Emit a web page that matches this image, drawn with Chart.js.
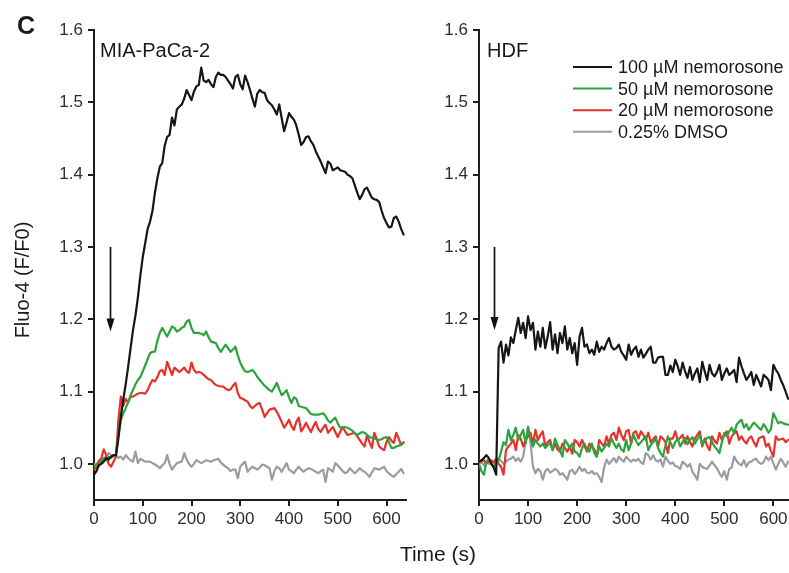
<!DOCTYPE html>
<html><head><meta charset="utf-8">
<script src="https://cdn.jsdelivr.net/npm/chart.js@4.4.1/dist/chart.umd.min.js"></script>
<style>
html,body{margin:0;padding:0;width:789px;height:573px;overflow:hidden;background:#fff;font-family:Arial,"Liberation Sans",sans-serif;}
.box{position:absolute;top:0;height:573px;}
#wa{left:0;width:420px;}
#wb{left:410px;width:400px;}
.t{position:absolute;line-height:1;white-space:nowrap;color:#1a1a1a;}
</style></head><body>
<div class="box" id="wa"><canvas id="ca" width="420" height="573"></canvas></div>
<div class="box" id="wb"><canvas id="cb" width="400" height="573"></canvas></div>
<div class="t" style="left:17px;top:13px;font-size:25px;font-weight:bold;">C</div>
<div class="t" style="left:100px;top:40px;font-size:20px;">MIA-PaCa-2</div>
<div class="t" style="left:487px;top:40px;font-size:20px;">HDF</div>
<div class="t" style="left:22px;top:280px;font-size:20px;transform:translate(-50%,-50%) rotate(-90deg);">Fluo-4 (F/F0)</div>
<div class="t" style="left:438px;top:553px;font-size:21px;transform:translate(-50%,-50%);">Time (s)</div>
<script>
// ---------- data ----------
const seriesLabels = ['100 \u00b5M nemorosone', '50 \u00b5M nemorosone', '20 \u00b5M nemorosone', '0.25% DMSO'];
const xTicks = [0, 100, 200, 300, 400, 500, 600];
const yTicks = [1.0, 1.1, 1.2, 1.3, 1.4, 1.5, 1.6];
// sampling times (s), one reading every 5 s
const timeA = Array.from({length: 128}, (_, i) => i * 5);   // MIA-PaCa-2: 0..635
const timeB = Array.from({length: 127}, (_, i) => i * 5);   // HDF: 0..630

// MIA-PaCa-2
const miaBlack = [
 0.985,0.99,0.998,1.0,1.003,1.008,1.006,1.01,1.012,1.012,
 1.035,1.065,1.089,1.11,1.134,1.16,1.185,1.205,1.23,1.26,
 1.286,1.305,1.325,1.335,1.35,1.375,1.395,1.411,1.416,1.44,
 1.452,1.455,1.479,1.468,1.49,1.494,1.497,1.505,1.517,1.51,
 1.503,1.515,1.522,1.524,1.548,1.53,1.528,1.531,1.525,1.521,
 1.535,1.541,1.538,1.538,1.535,1.53,1.525,1.519,1.535,1.538,
 1.525,1.518,1.537,1.528,1.517,1.505,1.494,1.512,1.517,1.514,
 1.513,1.503,1.499,1.496,1.49,1.483,1.497,1.478,1.46,1.472,
 1.485,1.48,1.476,1.468,1.455,1.441,1.445,1.452,1.453,1.446,
 1.441,1.432,1.425,1.418,1.41,1.402,1.418,1.415,1.406,1.408,
 1.41,1.406,1.405,1.404,1.4,1.398,1.395,1.385,1.375,1.366,
 1.372,1.38,1.382,1.375,1.368,1.366,1.365,1.362,1.35,1.34,
 1.333,1.327,1.328,1.34,1.342,1.335,1.325,1.317];
const miaGreen = [
 0.995,1.0,0.998,1.003,1.008,1.005,1.01,1.008,1.012,1.012,
 1.04,1.06,1.07,1.077,1.085,1.095,1.102,1.11,1.116,1.12,
 1.128,1.136,1.145,1.153,1.155,1.155,1.17,1.181,1.188,1.182,
 1.176,1.183,1.19,1.188,1.183,1.185,1.188,1.19,1.197,1.199,
 1.188,1.181,1.181,1.181,1.18,1.178,1.183,1.175,1.169,1.168,
 1.167,1.16,1.155,1.16,1.165,1.16,1.155,1.158,1.162,1.15,
 1.14,1.133,1.128,1.127,1.128,1.13,1.126,1.12,1.116,1.112,
 1.108,1.105,1.102,1.1,1.106,1.112,1.103,1.095,1.098,1.102,
 1.092,1.084,1.092,1.09,1.08,1.079,1.078,1.077,1.073,1.069,
 1.068,1.068,1.068,1.069,1.07,1.066,1.06,1.057,1.061,1.064,
 1.056,1.05,1.05,1.051,1.05,1.048,1.046,1.042,1.04,1.042,
 1.044,1.043,1.04,1.037,1.036,1.035,1.034,1.033,1.034,1.036,
 1.037,1.03,1.022,1.022,1.024,1.025,1.027,1.029];
const miaRed = [
 0.992,0.995,1.003,1.008,1.02,1.012,1.0,0.996,1.003,1.01,
 1.06,1.093,1.08,1.09,1.085,1.093,1.093,1.095,1.097,1.098,
 1.098,1.097,1.102,1.11,1.116,1.114,1.12,1.128,1.13,1.123,
 1.141,1.132,1.123,1.133,1.13,1.127,1.13,1.133,1.128,1.126,
 1.14,1.13,1.126,1.127,1.126,1.123,1.12,1.117,1.116,1.112,
 1.109,1.108,1.107,1.107,1.104,1.102,1.103,1.108,1.112,1.098,
 1.091,1.09,1.088,1.086,1.08,1.077,1.08,1.083,1.084,1.075,
 1.065,1.07,1.075,1.076,1.077,1.072,1.065,1.058,1.05,1.055,
 1.061,1.052,1.047,1.058,1.064,1.045,1.05,1.057,1.05,1.044,
 1.052,1.058,1.048,1.044,1.05,1.054,1.043,1.047,1.051,1.044,
 1.037,1.044,1.051,1.045,1.04,1.041,1.042,1.043,1.038,1.033,
 1.028,1.024,1.04,1.03,1.022,1.043,1.034,1.024,1.021,1.019,
 1.03,1.037,1.032,1.029,1.043,1.035,1.026,1.03];
const miaDmso = [
 1.0,0.998,1.005,1.003,1.008,1.01,1.015,1.012,1.01,1.012,
 1.008,1.01,1.006,1.012,1.008,1.005,1.003,1.017,1.001,1.007,
 1.005,1.003,1.003,1.003,1.001,0.999,0.997,0.994,0.998,1.001,
 1.012,1.0,0.992,0.997,1.001,1.002,1.003,1.015,1.006,1.0,
 0.996,1.0,1.005,1.003,1.001,1.003,1.005,1.004,1.003,1.005,
 1.006,1.007,1.002,0.999,0.996,0.994,0.99,0.992,0.992,0.98,
 0.996,1.0,1.003,0.989,0.993,0.996,0.994,0.992,0.995,0.999,
 0.998,0.996,0.994,0.978,0.99,0.996,0.994,0.989,0.995,1.001,
 0.992,0.99,0.987,0.992,0.996,0.992,0.989,0.992,0.994,0.993,
 0.991,0.989,0.987,0.99,0.992,0.975,0.994,0.992,0.989,1.001,
 0.998,0.994,0.99,0.987,0.989,0.994,0.99,0.987,0.99,0.994,
 0.991,0.989,0.986,0.982,0.988,0.994,0.993,0.992,0.994,0.996,
 0.99,0.987,0.984,0.982,0.986,0.989,0.993,0.987];

// HDF
const hdfBlack = [
 1.003,1.005,1.008,1.012,1.008,1.0,0.995,0.985,1.16,1.169,
 1.14,1.165,1.15,1.175,1.167,1.185,1.202,1.181,1.195,1.174,
 1.204,1.185,1.195,1.158,1.183,1.162,1.188,1.16,1.176,1.196,
 1.158,1.179,1.153,1.181,1.167,1.19,1.158,1.174,1.153,1.167,
 1.137,1.176,1.188,1.162,1.165,1.153,1.158,1.151,1.169,1.155,
 1.162,1.158,1.167,1.174,1.162,1.158,1.16,1.165,1.155,1.15,
 1.144,1.165,1.151,1.158,1.162,1.148,1.158,1.147,1.152,1.158,
 1.162,1.14,1.14,1.147,1.148,1.148,1.123,1.123,1.136,1.127,
 1.144,1.135,1.123,1.14,1.128,1.119,1.134,1.116,1.125,1.132,
 1.113,1.141,1.128,1.116,1.137,1.125,1.121,1.127,1.137,1.116,
 1.125,1.132,1.123,1.126,1.13,1.113,1.147,1.135,1.125,1.116,
 1.121,1.127,1.109,1.123,1.115,1.107,1.123,1.12,1.116,1.102,
 1.137,1.13,1.125,1.116,1.109,1.1,1.09];
const hdfGreen = [
 1.0,0.99,0.985,1.003,1.007,1.0,0.996,1.0,1.005,1.017,
 1.03,1.026,1.047,1.033,1.04,1.05,1.033,1.04,1.047,1.028,
 1.05,1.035,1.024,1.033,1.028,1.024,1.028,1.022,1.026,1.028,
 1.019,1.035,1.026,1.019,1.01,1.033,1.028,1.022,1.028,1.017,
 1.015,1.01,1.022,1.028,1.02,1.017,1.028,1.015,1.01,1.024,
 1.017,1.022,1.028,1.024,1.035,1.028,1.022,1.028,1.02,1.017,
 1.033,1.019,1.028,1.04,1.032,1.026,1.03,1.034,1.038,1.019,
 1.026,1.03,1.035,1.022,1.015,1.01,1.025,1.038,1.03,1.022,
 1.03,1.035,1.024,1.03,1.036,1.027,1.033,1.037,1.028,1.034,
 1.04,1.026,1.032,1.036,1.037,1.03,1.024,1.02,1.015,1.03,
 1.043,1.038,1.045,1.05,1.042,1.054,1.058,1.061,1.05,1.055,
 1.047,1.052,1.057,1.054,1.05,1.047,1.055,1.05,1.043,1.048,
 1.07,1.063,1.056,1.058,1.056,1.055,1.054];
const hdfRed = [
 1.005,1.003,1.005,1.0,1.004,1.005,1.002,1.007,1.0,0.996,
 0.985,1.019,1.024,1.028,1.033,1.019,1.04,1.035,1.024,1.033,
 1.038,1.043,1.028,1.047,1.033,1.04,1.045,1.024,1.03,1.033,
 1.019,1.028,1.02,1.017,1.028,1.022,1.017,1.024,1.014,1.033,
 1.03,1.024,1.033,1.025,1.017,1.028,1.024,1.02,1.01,1.033,
 1.028,1.024,1.038,1.028,1.04,1.043,1.033,1.05,1.04,1.033,
 1.045,1.047,1.028,1.043,1.045,1.035,1.045,1.04,1.033,1.043,
 1.03,1.034,1.038,1.024,1.038,1.035,1.03,1.015,1.035,1.035,
 1.045,1.033,1.036,1.04,1.028,1.038,1.03,1.024,1.035,1.04,
 1.045,1.024,1.035,1.025,1.019,1.038,1.032,1.028,1.043,1.033,
 1.04,1.045,1.028,1.038,1.042,1.045,1.033,1.038,1.032,1.028,
 1.035,1.038,1.03,1.024,1.035,1.037,1.038,1.024,1.028,1.018,
 1.01,1.038,1.033,1.034,1.035,1.03,1.033];
const hdfDmso = [
 1.0,1.002,0.998,1.003,1.0,1.002,0.998,1.005,1.007,1.004,
 1.0,1.003,1.006,1.007,1.01,1.004,1.008,1.003,1.01,1.03,
 1.052,1.03,0.996,0.987,0.993,0.99,0.978,0.99,0.993,0.988,
 0.99,0.993,0.991,0.985,0.987,0.983,0.978,0.99,0.992,0.986,
 0.99,0.996,0.99,0.993,0.988,0.987,0.99,0.986,0.987,0.982,
 0.975,0.995,1.006,1.0,1.004,1.008,1.002,1.01,1.006,1.003,
 1.01,1.006,1.003,1.006,1.004,1.007,1.002,1.0,1.015,1.012,
 1.006,1.012,1.005,1.003,1.006,0.996,1.01,1.004,1.0,1.002,
 0.997,0.996,0.993,1.003,1.0,0.996,1.0,0.989,0.984,0.978,
 1.0,0.996,0.994,0.993,0.998,1.003,0.998,0.994,0.987,0.982,
 0.99,0.978,0.993,0.995,1.01,1.004,1.0,0.998,1.005,0.996,
 1.002,1.003,1.006,1.007,1.002,1.0,1.002,1.01,1.005,1.01,
 1.001,0.992,1.0,1.007,1.002,0.996,1.003];

// agonist addition arrows (time, from, to)
const arrowMia = {t: 33, from: 1.3, to: 1.183};
const arrowHdf = {t: 31, from: 1.3, to: 1.185};

// ---------- styling ----------
const colors = ['#161616', '#2ca33c', '#e8302c', '#9a9ca2'];
const axisColor = '#1e1e1e';
const FONT = 'Arial, "Liberation Sans", sans-serif';

// tick labels in the figure use a narrow sans; use Liberation Sans Narrow if present
const narrowOK = (() => {
  const c = document.createElement('canvas').getContext('2d');
  c.font = '40px "Liberation Sans Narrow", monospace';
  const a = c.measureText('100 nemo').width;
  c.font = '40px monospace';
  const b = c.measureText('100 nemo').width;
  return Math.abs(a - b) > 0.5;
})();
const tickFont = narrowOK ? {size: 20, family: '"Liberation Sans Narrow", Arial, sans-serif'} : {size: 17, family: FONT};

function makeDatasets(time, arrs) {
  return arrs.map((a, i) => ({
    label: seriesLabels[i],
    data: a.map((v, k) => ({x: time[k], y: v})),
    borderColor: colors[i],
    backgroundColor: colors[i],
    borderWidth: 2.2,
    borderJoinStyle: 'round',
    borderCapStyle: 'round',
    pointRadius: 0,
    tension: 0,
    fill: false
  }));
}

const arrowPlugin = {
  id: 'arrowMark',
  afterDatasetsDraw(chart, args, o) {
    if (!o || o.t === undefined) return;
    const {ctx, scales: {x, y}} = chart;
    const px = Math.round(x.getPixelForValue(o.t)) + 0.5;
    const y0 = y.getPixelForValue(o.from), y1 = y.getPixelForValue(o.to);
    ctx.save();
    ctx.strokeStyle = '#111'; ctx.fillStyle = '#111'; ctx.lineWidth = 1.7;
    ctx.beginPath(); ctx.moveTo(px, y0); ctx.lineTo(px, y1 - 10); ctx.stroke();
    ctx.beginPath(); ctx.moveTo(px - 4, y1 - 13); ctx.lineTo(px + 4, y1 - 13); ctx.lineTo(px, y1); ctx.closePath(); ctx.fill();
    ctx.restore();
  }
};

const legendPlugin = {
  id: 'sideLegend',
  afterDraw(chart, args, o) {
    if (!o || !o.show) return;
    const ctx = chart.ctx;
    ctx.save();
    ctx.font = '18px ' + FONT;
    ctx.textBaseline = 'middle';
    chart.data.datasets.forEach((d, i) => {
      const yy = o.y0 + i * o.dy;
      ctx.strokeStyle = d.borderColor; ctx.lineWidth = 2;
      ctx.beginPath(); ctx.moveTo(o.x0, yy); ctx.lineTo(o.x1, yy); ctx.stroke();
      ctx.fillStyle = '#1a1a1a';
      ctx.fillText(d.label, o.tx, yy + 1);
    });
    ctx.restore();
  }
};

function makeChart(id, time, arrs, yWidth, padRight, arrow, legend) {
  return new Chart(document.getElementById(id), {
    type: 'line',
    data: {datasets: makeDatasets(time, arrs)},
    plugins: [arrowPlugin, legendPlugin],
    options: {
      responsive: false,
      animation: false,
      layout: {padding: {top: 30, right: padRight, left: 0, bottom: 0}},
      plugins: {
        legend: {display: false},
        tooltip: {enabled: false},
        arrowMark: arrow,
        sideLegend: legend
      },
      scales: {
        x: {
          type: 'linear', min: 0, max: 640,
          afterBuildTicks: s => { s.ticks = xTicks.map(v => ({value: v})); },
          afterFit: s => { s.height = 73; },
          grid: {display: true, drawOnChartArea: false, drawTicks: true, tickLength: 6, color: axisColor, lineWidth: 2},
          border: {display: true, color: axisColor, width: 2},
          ticks: {font: tickFont, color: '#2e2e2e', padding: 3, maxRotation: 0, autoSkip: false}
        },
        y: {
          type: 'linear', min: 0.95, max: 1.6,
          afterBuildTicks: s => { s.ticks = yTicks.map(v => ({value: v})); },
          afterFit: s => { s.width = yWidth; },
          grid: {display: true, drawOnChartArea: false, drawTicks: true, tickLength: 6, color: axisColor, lineWidth: 2},
          border: {display: true, color: axisColor, width: 2},
          ticks: {font: tickFont, color: '#2e2e2e', padding: 5, callback: v => Number(v).toFixed(1)}
        }
      }
    }
  });
}

makeChart('ca', timeA, [miaBlack, miaGreen, miaRed, miaDmso], 94, 14, arrowMia, {show: false});
makeChart('cb', timeB, [hdfBlack, hdfGreen, hdfRed, hdfDmso], 69, 17, arrowHdf,
  {show: true, x0: 163, x1: 202, tx: 208, y0: 67, dy: 21.6});
</script>
</body></html>
